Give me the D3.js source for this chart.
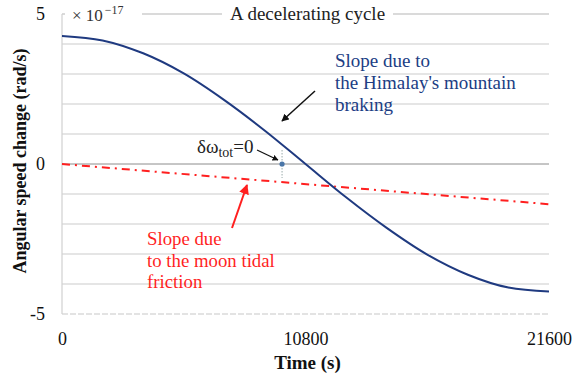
<!DOCTYPE html>
<html>
<head>
<meta charset="utf-8">
<script src="https://cdn.jsdelivr.net/npm/d3@7"></script>
<style>
  body { margin: 0; background: #fff; }
  svg { display: block; }
</style>
</head>
<body>
<svg id="chart"></svg>
<script>
// time in seconds over half a cycle
const times = [0, 1800, 3600, 5400, 7200, 9000, 10800, 12600, 14400, 16200, 18000, 19800, 21600];
// mountain braking curve (x 1e-17 rad/s)
const mountainValues = [4.27, 4.12, 3.69, 3.02, 2.13, 1.11, 0.0, -1.11, -2.13, -3.02, -3.69, -4.12, -4.25];
// moon tidal friction line
const tidalTimes = [0, 21600];
const tidalValues = [0, -1.34];
// point where total change is zero
const zeroPoint = [9760, 0];

const xTicks = [0, 10800, 21600];
const yTicks = [-5, 0, 5];
const yGrid = [-4, -3, -2, -1, 1, 2, 3, 4, 5];

const FONT = "'Liberation Serif', Tinos, 'Times New Roman', 'DejaVu Serif', serif";

const width = 574, height = 377;
const margin = { top: 14, right: 25, bottom: 63, left: 62 };

const svg = d3.select("#chart").attr("width", width).attr("height", height);

const x = d3.scaleLinear().domain([0, 21600]).range([margin.left, width - margin.right]);
const y = d3.scaleLinear().domain([-5, 5]).range([height - margin.bottom, margin.top]);

// gridlines
svg.append("g")
  .selectAll("line")
  .data(yGrid)
  .join("line")
  .attr("x1", x(0)).attr("x2", x(21600))
  .attr("y1", (d) => y(d)).attr("y2", (d) => y(d))
  .attr("stroke", "#dcdcdc")
  .attr("stroke-width", 1.5);

// bottom border (dashed light)
svg.append("line")
  .attr("x1", x(0)).attr("x2", x(21600))
  .attr("y1", y(-5)).attr("y2", y(-5))
  .attr("stroke", "#c8c8c8")
  .attr("stroke-width", 1.2)
  .attr("stroke-dasharray", "6,2");

// left axis line
svg.append("line")
  .attr("x1", x(0)).attr("x2", x(0))
  .attr("y1", y(5)).attr("y2", y(-5))
  .attr("stroke", "#d0d0d0")
  .attr("stroke-width", 1.2);

// zero line
svg.append("line")
  .attr("x1", x(0)).attr("x2", x(21600))
  .attr("y1", y(0)).attr("y2", y(0))
  .attr("stroke", "#8c8c8c")
  .attr("stroke-width", 1);

// axes (labels only)
const xaxis = d3.axisBottom(x).tickValues(xTicks).tickFormat(d3.format("d")).tickSize(0).tickPadding(18);
const g_xaxis = svg.append("g").attr("transform", `translate(0,${y(-5)})`).call(xaxis);
const yaxis = d3.axisLeft(y).tickValues(yTicks).tickFormat((d) => String(d)).tickSize(0).tickPadding(17);
const g_yaxis = svg.append("g").attr("transform", `translate(${x(0)},0)`).call(yaxis);
[g_xaxis, g_yaxis].forEach((g) => {
  g.attr("font-family", FONT).attr("font-size", 18);
  g.select(".domain").remove();
  g.selectAll("text").attr("fill", "#111");
});

// tidal friction line (dash-dot)
const line = d3.line().x((d) => x(d[0])).y((d) => y(d[1]));
svg.append("path")
  .datum(tidalTimes.map((t, i) => [t, tidalValues[i]]))
  .attr("d", line)
  .attr("fill", "none")
  .attr("stroke", "#ff1f1f")
  .attr("stroke-width", 2)
  .attr("stroke-dasharray", "8,5,2,5");

// mountain braking curve
svg.append("path")
  .datum(times.map((t, i) => [t, mountainValues[i]]))
  .attr("d", line.curve(d3.curveCatmullRom.alpha(0.5)))
  .attr("fill", "none")
  .attr("stroke", "#1f3a80")
  .attr("stroke-width", 2);

// zero total point with dotted guide
svg.append("line")
  .attr("x1", x(zeroPoint[0])).attr("x2", x(zeroPoint[0]))
  .attr("y1", y(zeroPoint[1]) - 14).attr("y2", y(zeroPoint[1]) + 14)
  .attr("stroke", "#9aa")
  .attr("stroke-width", 1)
  .attr("stroke-dasharray", "1.5,1.5");
svg.append("circle")
  .attr("cx", x(zeroPoint[0])).attr("cy", y(zeroPoint[1]))
  .attr("r", 2.6)
  .attr("fill", "#4a76a8");

// arrow markers
const defs = svg.append("defs");
[["arrBlack", "#111"], ["arrRed", "#ff1f1f"]].forEach(([id, c]) => {
  defs.append("marker")
    .attr("id", id)
    .attr("viewBox", "0 0 10 10")
    .attr("refX", 9).attr("refY", 5)
    .attr("markerWidth", 5).attr("markerHeight", 5)
    .attr("orient", "auto")
    .append("path")
    .attr("d", "M0,0 L10,5 L0,10 z")
    .attr("fill", c);
});

svg.append("line")
  .attr("x1", 315).attr("y1", 91).attr("x2", 282).attr("y2", 121)
  .attr("stroke", "#111").attr("stroke-width", 1.5)
  .attr("marker-end", "url(#arrBlack)");
svg.append("line")
  .attr("x1", 257).attr("y1", 150).attr("x2", 278).attr("y2", 160)
  .attr("stroke", "#111").attr("stroke-width", 1.2)
  .attr("marker-end", "url(#arrBlack)");
svg.append("line")
  .attr("x1", 232).attr("y1", 228).attr("x2", 247).attr("y2", 185)
  .attr("stroke", "#ff1f1f").attr("stroke-width", 2)
  .attr("marker-end", "url(#arrRed)");

// title boxes over top gridline
svg.append("line")
  .attr("x1", x(0)).attr("x2", x(21600))
  .attr("y1", y(5)).attr("y2", y(5))
  .attr("stroke", "#cfcfcf").attr("stroke-width", 1);
svg.append("rect").attr("x", 65).attr("y", 0).attr("width", 77).attr("height", 28).attr("fill", "#fff");
svg.append("rect").attr("x", 222).attr("y", 0).attr("width", 171).attr("height", 28).attr("fill", "#fff");

// all free texts go in one group with the serif font
const tg = svg.append("g").attr("font-family", FONT);

const exp = tg.append("text").attr("x", 72).attr("y", 21).attr("font-size", 17).attr("fill", "#333");
exp.append("tspan").text("× 10");
exp.append("tspan").attr("dy", -7).attr("font-size", 12).attr("dx", 2).text("−17");

tg.append("text")
  .attr("x", 230).attr("y", 20)
  .attr("font-size", 19)
  .attr("fill", "#222")
  .text("A decelerating cycle");

// annotation texts
const blueLines = ["Slope due to", "the Himalay's mountain", "braking"];
tg.append("g").selectAll("text").data(blueLines).join("text")
  .attr("x", 335).attr("y", (d, i) => 67 + i * 22)
  .attr("font-size", 19)
  .attr("fill", "#203d84")
  .text((d) => d);

const redLines = ["Slope due", "to the moon tidal", "friction"];
tg.append("g").selectAll("text").data(redLines).join("text")
  .attr("x", 147).attr("y", (d, i) => 245 + i * 21.5)
  .attr("font-size", 18.8)
  .attr("fill", "#ff1f1f")
  .text((d) => d);

const dw = tg.append("text").attr("x", 197).attr("y", 153).attr("font-size", 19).attr("fill", "#222");
dw.append("tspan").text("δω");
dw.append("tspan").attr("dy", 4).attr("font-size", 14).text("tot");
dw.append("tspan").attr("dy", -4).text("=0");

// axis titles
tg.append("text")
  .attr("x", x(10800) + 2).attr("y", 369)
  .attr("text-anchor", "middle")
  .attr("font-size", 19).attr("font-weight", "bold")
  .attr("fill", "#111")
  .text("Time (s)");

tg.append("text")
  .attr("transform", `translate(26,${y(0) - 3}) rotate(-90)`)
  .attr("text-anchor", "middle")
  .attr("font-size", 18).attr("font-weight", "bold")
  .attr("fill", "#111")
  .text("Angular speed change (rad/s)");
</script>
</body>
</html>
